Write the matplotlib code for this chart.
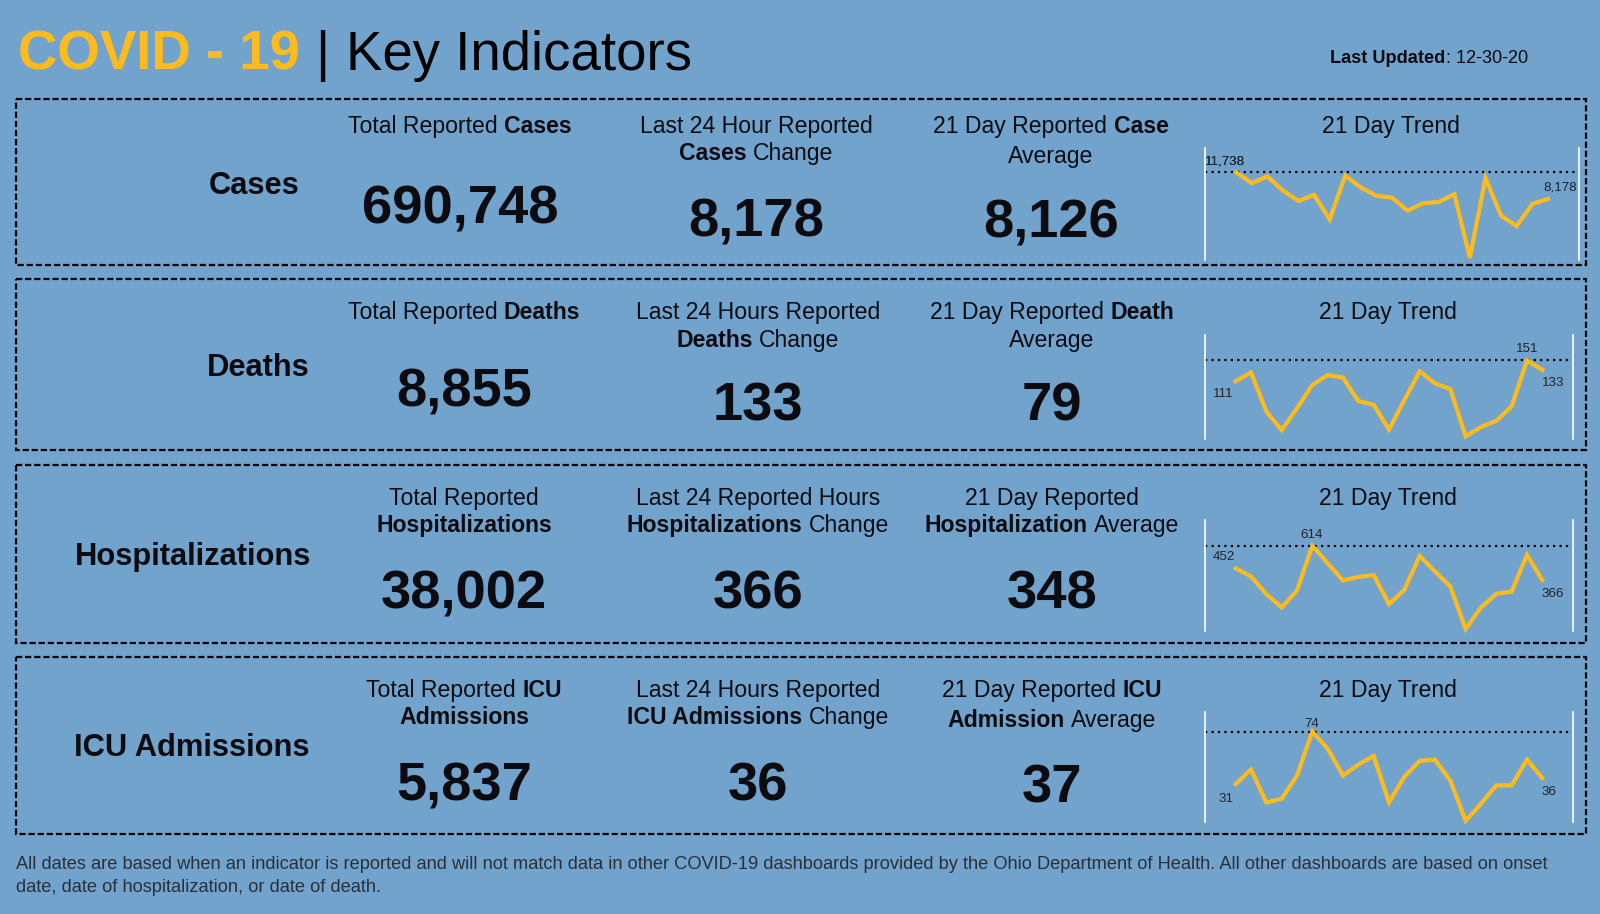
import matplotlib
matplotlib.use('Agg')
import matplotlib.pyplot as plt
from matplotlib.patches import Rectangle

plt.rcParams['font.family'] = ['Liberation Sans', 'DejaVu Sans']

W, H = 1600, 914
BG = '#71a3cd'
GOLD = '#fdbb1e'
INK = '#0c0c10'

# row names, big numbers and 21 day series
indicators = ['Cases', 'Deaths', 'Hospitalizations', 'ICU Admissions']
totals = ['690,748', '8,855', '38,002', '5,837']
changes = ['8,178', '133', '366', '36']
averages = ['8,126', '79', '348', '37']

cases_trend = [11738, 10298, 11198, 9308, 7913, 8723, 5438, 11288, 9713, 8588, 8363,
               6608, 7598, 7778, 8813, 308, 10973, 5933, 4538, 7508, 8178]
deaths_trend = [111, 128, 53, 17, 59, 104, 123, 118, 73, 66, 18,
                75, 130, 107, 96, 5, 23, 35, 63, 151, 133]
hosp_trend = [452, 393, 266, 170, 292, 614, 489, 364, 390, 402, 194,
              297, 541, 429, 321, 14, 170, 268, 285, 548, 366]
icu_trend = [31, 43, 16, 19, 38, 74, 60, 38, 47, 54, 16,
             37, 50, 51, 34, 1, 15, 30, 30, 51, 36]
trends = [cases_trend, deaths_trend, hosp_trend, icu_trend]
trend_tops = [15000, 200, 800, 90]

# header lines as (text, bold) pieces
total_heads = [
    [[('Total Reported', False), ('Cases', True)]],
    [[('Total Reported', False), ('Deaths', True)]],
    [[('Total Reported', False)], [('Hospitalizations', True)]],
    [[('Total Reported', False), ('ICU', True)], [('Admissions', True)]],
]
change_heads = [
    [[('Last 24 Hour Reported', False)], [('Cases', True), ('Change', False)]],
    [[('Last 24 Hours Reported', False)], [('Deaths', True), ('Change', False)]],
    [[('Last 24 Reported Hours', False)], [('Hospitalizations', True), ('Change', False)]],
    [[('Last 24 Hours Reported', False)], [('ICU Admissions', True), ('Change', False)]],
]
average_heads = [
    [[('21 Day Reported', False), ('Case', True)], [('Average', False)]],
    [[('21 Day Reported', False), ('Death', True)], [('Average', False)]],
    [[('21 Day Reported', False)], [('Hospitalization', True), ('Average', False)]],
    [[('21 Day Reported', False), ('ICU', True)], [('Admission', True), ('Average', False)]],
]

footer_lines = [
    'All dates are based when an indicator is reported and will not match data in other COVID-19 '
    'dashboards provided by the Ohio Department of Health. All other dashboards are based on onset',
    'date, date of hospitalization, or date of death.',
]

# layout per row, in image pixels
boxes = [(99, 265), (279, 450), (465, 643), (657, 834)]
label_pos = [(299, 183), (310, 365), (311, 554), (310, 745)]
col_x = [(460, 756, 1051), (464, 758, 1052), (464, 758, 1052), (464, 758, 1052)]
line_y = [(125, 152), (311, 339), (497, 524), (689, 716)]
avg_line_y = [(125, 155), (311, 339), (497, 524), (689, 719)]
num_y = [(204, 217, 218), (387, 401, 401), (589, 589, 589), (781, 781, 783)]
trend_title = [(1391, 125), (1388, 311), (1388, 497), (1388, 689)]
trend_axes = [(1205, 1579, 148, 260), (1205, 1573, 335, 439), (1205, 1573, 520, 631), (1205, 1573, 712, 822)]
# pixel offsets of first / max / last value labels
label_offsets = [
    ((-11, 11), (-11, 11), (12, 11)),
    ((-12, -13), (0, 11), (11, -13)),
    ((-12, 11), (-1, 11), (10, -14)),
    ((-10, -15), (-1, 8), (7, -14)),
]

fig = plt.figure(figsize=(W / 100, H / 100), dpi=100, facecolor=BG)
bg = fig.add_axes([0, 0, 1, 1])
bg.set_xlim(0, W)
bg.set_ylim(H, 0)
bg.axis('off')
renderer = fig.canvas.get_renderer()


def put(x, y, s, size, bold=False, color=INK, ha='left'):
    # y is the middle of the capitals, so bold and regular share one baseline
    base = y + 0.36 * size * 100 / 72
    return bg.text(x, base, s, fontsize=size, fontweight='bold' if bold else 'normal',
                   color=color, ha=ha, va='baseline')


def text_width(s, size, bold):
    t = bg.text(0, 0, s, fontsize=size, fontweight='bold' if bold else 'normal')
    w = t.get_window_extent(renderer).width
    t.remove()
    return w


def mixed_line(cx, y, parts, size=16.6, gap=None):
    # matplotlib has no inline bold, so lay the pieces out by hand
    if gap is None:
        gap = text_width('a a', size, False) - text_width('aa', size, False)
    widths = [text_width(p[0], size, p[1]) for p in parts]
    x = cx - (sum(widths) + gap * (len(parts) - 1)) / 2
    for (s, bold), w in zip(parts, widths):
        put(x, y, s, size, bold)
        x += w + gap


def draw_trend(row):
    left, right, top, bottom = trend_axes[row]
    ax = fig.add_axes([left / W, 1 - bottom / H, (right - left) / W, (bottom - top) / H])
    ax.patch.set_alpha(0)
    values = trends[row]
    days = list(range(len(values)))
    peak = values.index(max(values))

    ax.set_xlim(-2, len(values) + 1)
    ax.set_ylim(0, trend_tops[row])
    ax.set_xticks([])
    ax.set_yticks([])
    for side in ['top', 'bottom']:
        ax.spines[side].set_visible(False)
    for side in ['left', 'right']:
        ax.spines[side].set_color('white')
        ax.spines[side].set_linewidth(1.2)

    ax.axhline(values[peak], color='black', linestyle=(0, (1, 1.9)), linewidth=1.6, zorder=1)
    ax.plot(days, values, color=GOLD, linewidth=3, solid_joinstyle='miter', zorder=2, clip_on=False)

    for idx, off in zip([0, peak, len(values) - 1], label_offsets[row]):
        ax.annotate(f'{values[idx]:,}', (idx, values[idx]), xytext=off, textcoords='offset pixels',
                    fontsize=9.6, color='#20242c', ha='center', va='center', annotation_clip=False)


# title
put(18, 50, 'COVID - 19', 39.3, bold=True, color=GOLD)
put(315, 50, '|', 39.3, color='black')
put(346, 50, 'Key Indicators', 39.3, color='black')
mixed_line(1429, 56, [('Last Updated', True), (': 12-30-20', False)], size=13.05, gap=0)

for row, name in enumerate(indicators):
    y0, y1 = boxes[row]
    bg.add_patch(Rectangle((16, y0), 1570, y1 - y0, fill=False, edgecolor='black',
                           linewidth=1.6, linestyle=(0, (2.8, 1.3))))
    lx, ly = label_pos[row]
    put(lx, ly, name, 22.2, bold=True, ha='right')

    heads = [total_heads[row], change_heads[row], average_heads[row]]
    nums = [totals[row], changes[row], averages[row]]
    ys = [line_y[row], line_y[row], avg_line_y[row]]
    for c in range(3):
        for parts, y in zip(heads[c], ys[c]):
            mixed_line(col_x[row][c], y, parts)
        put(col_x[row][c], num_y[row][c], nums[c], 39.2, bold=True, ha='center')

    tx, ty = trend_title[row]
    put(tx, ty, '21 Day Trend', 16.6, ha='center')
    draw_trend(row)

for line, y in zip(footer_lines, [862, 885]):
    put(16, y, line, 13.15, color='#2b3038')

fig.savefig('out.png', dpi=100, facecolor=BG)
plt.close(fig)
